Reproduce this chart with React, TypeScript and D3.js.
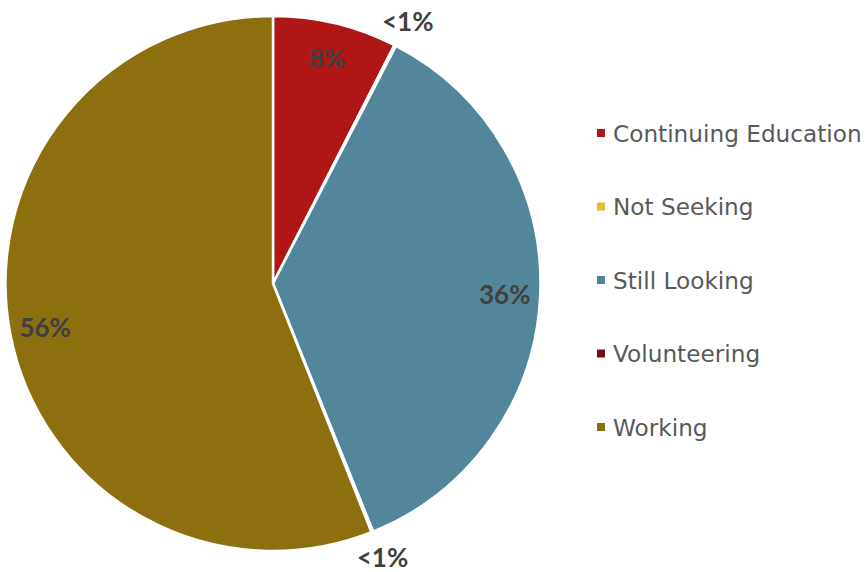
import React from "react";
import * as d3 from "d3";

const categories = ["Continuing Education", "Not Seeking", "Still Looking", "Volunteering", "Working"];
const values = [7.5, 0.1, 36.3, 0.1, 56.0];
const colors = ["#B01616", "#E8B82C", "#54869B", "#721010", "#8E6F10"];

const W = 867;
const H = 572;
const cx = 273;
const cy = 283.5;
const R = 267.5;

function fmt(v: number) {
  return v < 1 ? "<1%" : `${Math.round(v)}%`;
}

export default function App() {
  const pie = d3.pie<number>().sort(null).value((d) => d)(values);
  const arc = d3.arc<d3.PieArcDatum<number>>().innerRadius(0).outerRadius(R);
  const legendY = d3.scalePoint<string>().domain(categories).range([133, 427]);

  return (
    <svg width={W} height={H} style={{ position: "absolute", left: 0, top: 0, display: "block" }}>
      <rect width={W} height={H} fill="#fff" />
      <g transform={`translate(${cx},${cy})`}>
        {pie.map((p, i) => (
          <path key={i} d={arc(p) || ""} fill={colors[i]} stroke="#fff" strokeWidth={2.5} strokeLinejoin="round" />
        ))}
        {pie.map((p, i) => {
          const mid = (p.startAngle + p.endAngle) / 2;
          const inside = values[i] >= 1;
          const r = inside ? 232 : 295;
          const x = Math.sin(mid) * r;
          const y = -Math.cos(mid) * r;
          return (
            <text
              key={"l" + i}
              x={x}
              y={y}
              textAnchor="middle"
              dominantBaseline="central"
              fontFamily="Lato, 'DejaVu Sans', sans-serif"
              fontWeight={700}
              fontSize={26}
              fill="#404040"
            >
              {fmt(values[i])}
            </text>
          );
        })}
      </g>
      <g>
        {categories.map((c, i) => {
          const y = legendY(c) as number;
          return (
            <g key={c}>
              <rect x={597} y={y - 4} width={8} height={8} fill={colors[i]} />
              <text
                x={613}
                y={y}
                dominantBaseline="central"
                fontFamily="'DejaVu Sans', sans-serif"
                fontSize={23.2}
                fill="#595959"
              >
                {c}
              </text>
            </g>
          );
        })}
      </g>
    </svg>
  );
}
